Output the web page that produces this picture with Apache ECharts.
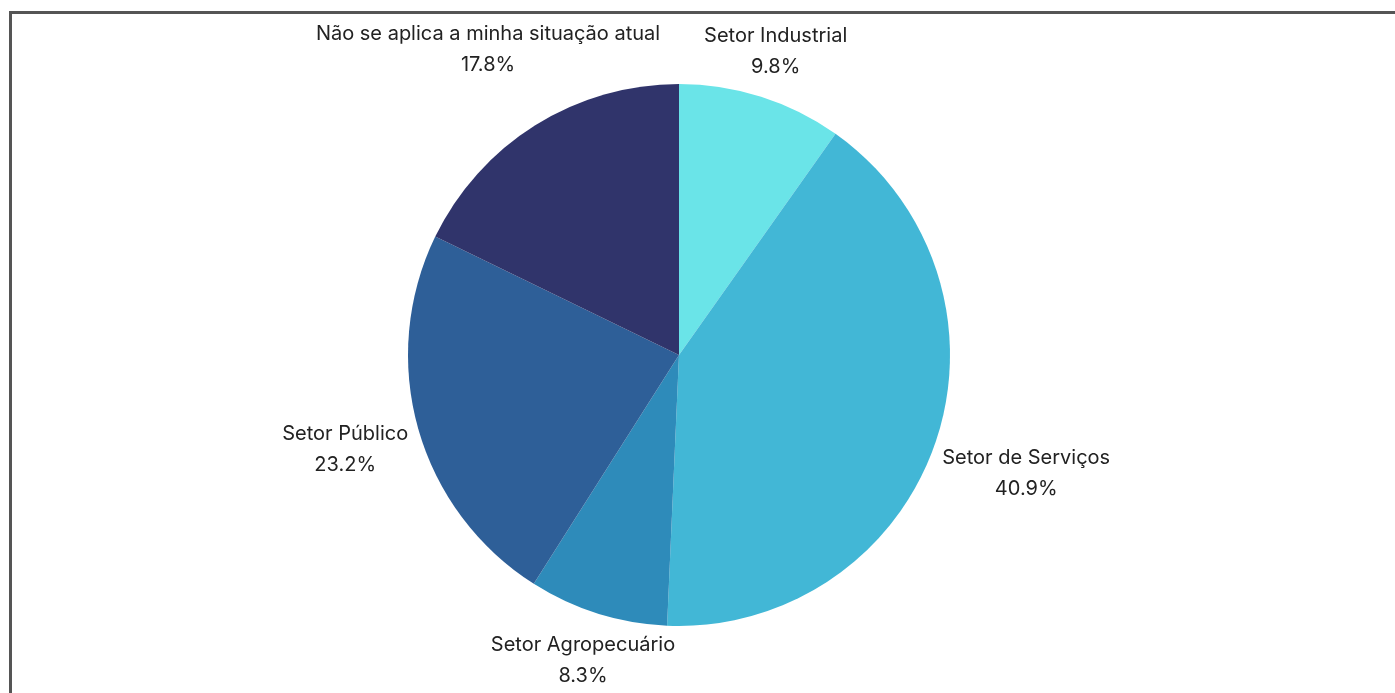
<!DOCTYPE html>
<html>
<head>
<meta charset="utf-8">
<script src="https://cdn.jsdelivr.net/npm/echarts@6/dist/echarts.min.js"></script>
<style>
  html, body { margin: 0; padding: 0; background: #fff; overflow: hidden; }
  #frame { position: absolute; left: 9px; top: 11px; width: 1400px; height: 700px; border: 3px solid #555; box-sizing: border-box; }
  #chart { position: absolute; left: 0; top: 0; width: 1395px; height: 693px; }
</style>
</head>
<body>
<div id="frame"></div>
<div id="chart"></div>
<script>
const categories = ['Setor Industrial', 'Setor de Serviços', 'Setor Agropecuário', 'Setor Público', 'Não se aplica a minha situação atual']
const values = [9.8, 40.9, 8.3, 23.2, 17.8]
const colors = ['#6AE4E8', '#42B7D6', '#2E8BBA', '#2E5F98', '#30346B']

const cx = 679, cy = 355, radius = 271
const gap = 8

// mid angle of each slice, clockwise from 12 o'clock
const total = values.reduce((a, b) => a + b, 0)
let acc = 0
const midAngles = values.map(v => {
  const mid = (acc + v / 2) / total * Math.PI * 2
  acc += v
  return mid
})

// push the label box out along the slice's mid angle until it clears the pie
const placeLabel = params => {
  const a = midAngles[params.dataIndex]
  const ux = Math.sin(a), uy = -Math.cos(a)
  // ignore the line-height padding above/below the glyphs
  const hw = params.labelRect.width / 2, hh = params.labelRect.height / 2 - 5
  let t = radius
  for (; t < radius + 400; t += 1) {
    const bx = cx + ux * t, by = cy + uy * t
    const nx = Math.max(bx - hw, Math.min(cx, bx + hw))
    const ny = Math.max(by - hh, Math.min(cy, by + hh))
    if (Math.hypot(nx - cx, ny - cy) >= radius + gap) break
  }
  return { x: cx + ux * t, y: cy + uy * t, align: 'center', verticalAlign: 'middle' }
}

const chart = echarts.init(document.getElementById('chart'))

chart.setOption({
  animation: false,
  color: colors,
  series: [{
    type: 'pie',
    center: [cx, cy],
    radius: radius,
    startAngle: 90,
    clockwise: true,
    data: categories.map((name, i) => ({ name, value: values[i] })),
    label: {
      show: true,
      position: 'outside',
      formatter: p => `${p.name}\n${p.value.toFixed(1)}%`,
      fontFamily: 'Inter',
      fontSize: 20,
      color: '#222',
      lineHeight: 31,
      align: 'center'
    },
    labelLine: { show: false },
    labelLayout: placeLabel,
    itemStyle: { borderWidth: 0 }
  }]
})
</script>
</body>
</html>
